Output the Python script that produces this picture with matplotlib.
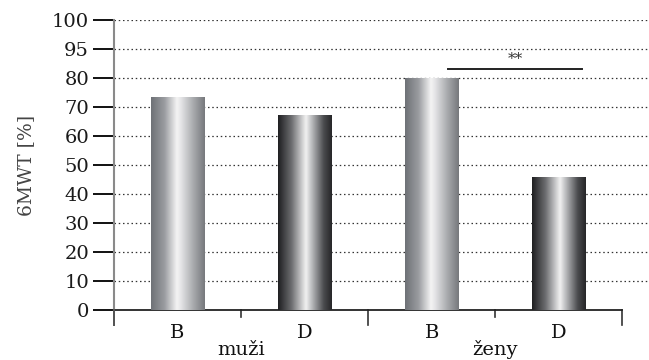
import numpy as np
import matplotlib
matplotlib.use("Agg")
import matplotlib.pyplot as plt
from matplotlib.colors import LinearSegmentedColormap

# Data
groups = ["muži", "ženy"]
bar_labels = ["B", "D", "B", "D"]
values = [73.4, 67.2, 80.1, 46.0]
bar_kind = ["B", "D", "B", "D"]
ytick_values = [0, 10, 20, 30, 40, 50, 60, 70, 80, 90, 100]
ytick_labels = ["0", "10", "20", "30", "40", "50", "60", "70", "80", "95", "100"]
sig_pair = (2, 3)
sig_height = 83.2
sig_text = "**"

serif = "DejaVu Serif"

fig = plt.figure(figsize=(6.49, 3.60), dpi=100)
ax = fig.add_axes([0.1757, 0.1389, 1.0 - 0.1757, 0.9444 - 0.1389])

x = np.arange(len(values))

# Metallic gradient colour maps
cmap_b = LinearSegmentedColormap.from_list(
    "metal_b",
    [(0.0, "#6e7176"), (0.25, "#9a9ca0"), (0.48, "#f4f4f4"),
     (0.55, "#e6e6e8"), (0.8, "#a5a7aa"), (1.0, "#76787c")])
cmap_d = LinearSegmentedColormap.from_list(
    "metal_d",
    [(0.0, "#1e1e20"), (0.25, "#6c6d70"), (0.52, "#f2f2f2"),
     (0.6, "#c8c9cb"), (0.85, "#4a4b4e"), (1.0, "#262628")])
grad = np.linspace(0, 1, 256).reshape(1, -1)

width = 0.42
bars = ax.bar(x, values, width=width, color="none", edgecolor="none", zorder=3)
for rect, kind in zip(bars, bar_kind):
    x0, y0 = rect.get_x(), rect.get_y()
    w, h = rect.get_width(), rect.get_height()
    im = ax.imshow(grad, cmap=cmap_b if kind == "B" else cmap_d,
                   extent=[x0, x0 + w, y0, y0 + h], aspect="auto",
                   interpolation="bicubic", zorder=3)
    im.set_clip_path(rect)
ax.set_xlim(-0.5, 3.71)
ax.set_ylim(0, 100)

# Dotted grid
for yv in ytick_values[1:]:
    ax.axhline(yv, color="#333333", lw=0.9, ls=(0, (1.2, 2.2)), zorder=1)

# Y axis
ax.set_yticks(ytick_values)
ax.set_yticklabels(ytick_labels, fontfamily=serif, fontsize=14, color="#1a1a1a")
ax.tick_params(axis="y", direction="out", length=15, width=1.4, color="#111111", pad=3)
ax.spines["left"].set_color("#8a8a8a")
ax.spines["left"].set_linewidth(1.5)
ax.spines["left"].set_bounds(0, 100)
ax.plot([-0.5, -0.5], [0, -5.2], color="#555555", lw=1.4, clip_on=False, zorder=4)
ax.set_ylabel("6MWT [%]", fontfamily=serif, fontsize=13.5, color="#444444", labelpad=12)

# X axis
ax.spines["bottom"].set_bounds(-0.5, 3.5)
ax.spines["bottom"].set_color("#222222")
ax.spines["bottom"].set_linewidth(1.3)
ax.spines["top"].set_visible(False)
ax.spines["right"].set_visible(False)
ax.set_xticks([])
for xb in [-0.5, 1.5, 3.5]:
    ax.plot([xb, xb], [0, -5.2], color="#333333", lw=1.2, clip_on=False)
for xb in [0.5, 2.5]:
    ax.plot([xb, xb], [0, -2.4], color="#333333", lw=1.2, clip_on=False)

for xi, lab in zip(x, bar_labels):
    ax.text(xi, -8.0, lab, ha="center", va="center", fontfamily=serif,
            fontsize=14, color="#111111")
for gi, g in enumerate(groups):
    ax.text(2 * gi + 0.5, -15.4, g, ha="center", va="baseline", fontfamily=serif,
            fontsize=14, color="#111111", clip_on=False)

# Significance bracket
xa = sig_pair[0] + 0.13
xb2 = sig_pair[1] + 0.18
ax.plot([xa, xb2], [sig_height, sig_height], color="#222222", lw=1.4, zorder=4)
ax.text((xa + xb2) / 2, sig_height + 0.8, sig_text, ha="center", va="bottom",
        fontfamily=serif, fontsize=11, color="#333333")

fig.savefig("out.png", dpi=100)
